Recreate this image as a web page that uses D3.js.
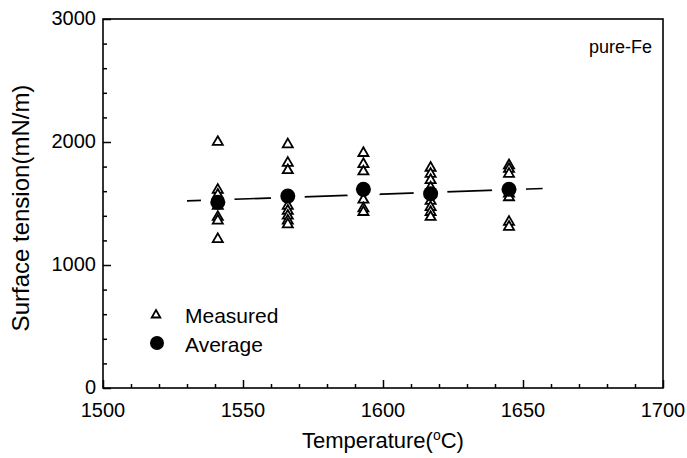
<!DOCTYPE html>
<html>
<head>
<meta charset="utf-8">
<script src="https://cdn.jsdelivr.net/npm/d3@7"></script>
<style>
body { margin: 0; background: #fff; }
svg text { font-family: "Liberation Sans", Arial, sans-serif; fill: #000; }
</style>
</head>
<body>
<svg></svg>
<script>
// measured points, one list per temperature
var temps = [1541, 1566, 1593, 1617, 1645];
var measured = [
	[2000, 1610, 1570, 1480, 1390, 1360, 1210],
	[1980, 1830, 1770, 1480, 1440, 1400, 1360, 1330],
	[1910, 1820, 1760, 1530, 1460, 1430],
	[1790, 1740, 1690, 1630, 1520, 1470, 1430, 1390],
	[1810, 1780, 1740, 1580, 1550, 1350, 1310]
];
var averages = [1510, 1560, 1615, 1580, 1615];
var fitT = [1530, 1657];
var fitY = [1521, 1622];
var xTicks = [1500, 1550, 1600, 1650, 1700];
var yTicks = [0, 1000, 2000, 3000];

var width = 687;
var height = 458;
var pLeft = 103, pRight = 663, pTop = 19, pBottom = 388;

var svg = d3.select("svg")
	.attr("width", width)
	.attr("height", height);

var x = d3.scaleLinear().domain([1500, 1700]).range([pLeft, pRight]);
var y = d3.scaleLinear().domain([0, 3000]).range([pBottom, pTop]);

// frame
svg.append("rect")
	.attr("x", pLeft).attr("y", pTop)
	.attr("width", pRight - pLeft).attr("height", pBottom - pTop)
	.attr("fill", "none").attr("stroke", "#000").attr("stroke-width", 1.6);

// minor ticks (inward)
svg.append("g")
	.attr("transform", `translate(0, ${pBottom})`)
	.call(d3.axisTop(x).tickValues(d3.range(1510, 1700, 10).filter(d => d % 50)).tickSize(4).tickFormat(""))
	.call(g => g.select(".domain").remove())
	.selectAll("line").attr("stroke-width", 1.5);

svg.append("g")
	.attr("transform", `translate(${pLeft}, 0)`)
	.call(d3.axisRight(y).tickValues(d3.range(200, 3000, 200).filter(d => d % 1000)).tickSize(4).tickFormat(""))
	.call(g => g.select(".domain").remove())
	.selectAll("line").attr("stroke-width", 1.5);

// major ticks + labels
var xAxis = svg.append("g")
	.attr("transform", `translate(0, ${pBottom})`)
	.call(d3.axisTop(x).tickValues(xTicks).tickSize(8).tickFormat(""))
	.call(g => g.select(".domain").remove());
xAxis.selectAll("line").attr("stroke-width", 1.5);

svg.selectAll(".xlab")
	.data(xTicks)
	.enter().append("text")
	.attr("x", d => x(d))
	.attr("y", 417)
	.attr("text-anchor", "middle")
	.style("font-size", "20px")
	.text(d => d);

var yAxis = svg.append("g")
	.attr("transform", `translate(${pLeft}, 0)`)
	.call(d3.axisRight(y).tickValues(yTicks).tickSize(8).tickFormat(""))
	.call(g => g.select(".domain").remove());
yAxis.selectAll("line").attr("stroke-width", 1.5);

svg.selectAll(".ylab")
	.data(yTicks)
	.enter().append("text")
	.attr("x", 96)
	.attr("y", d => y(d) + 6)
	.attr("text-anchor", "end")
	.style("font-size", "20px")
	.text(d => d);

// axis titles
var xt = svg.append("text")
	.attr("x", (pLeft + pRight) / 2)
	.attr("y", 448)
	.attr("text-anchor", "middle")
	.style("font-size", "22px");
xt.append("tspan").text("Temperature(");
xt.append("tspan").attr("dy", -8).style("font-size", "14px").text("o");
xt.append("tspan").attr("dy", 8).text("C)");

svg.append("text")
	.attr("transform", "rotate(-90)")
	.attr("x", -208)
	.attr("y", 29)
	.attr("text-anchor", "middle")
	.style("font-size", "24px")
	.text("Surface tension(mN/m)");

svg.append("text")
	.attr("x", 589)
	.attr("y", 53)
	.style("font-size", "18px")
	.text("pure-Fe");

// fit line
svg.append("line")
	.attr("x1", x(fitT[0])).attr("y1", y(fitY[0]))
	.attr("x2", x(fitT[1])).attr("y2", y(fitY[1]))
	.attr("stroke", "#000").attr("stroke-width", 1.6);

// white halos around averages break the line
svg.selectAll(".halo")
	.data(averages)
	.enter().append("circle")
	.attr("cx", (d, i) => x(temps[i]))
	.attr("cy", d => y(d))
	.attr("r", 17)
	.attr("fill", "#fff");

var tri = d3.symbol().type(d3.symbolTriangle).size(44);

var pts = [];
measured.forEach((vals, i) => vals.forEach(v => pts.push({t: temps[i], v: v})));

svg.selectAll(".meas")
	.data(pts)
	.enter().append("path")
	.attr("d", tri)
	.attr("transform", d => `translate(${x(d.t)}, ${y(d.v)})`)
	.attr("fill", "#fff")
	.attr("stroke", "#000")
	.attr("stroke-width", 1.8);

svg.selectAll(".avg")
	.data(averages)
	.enter().append("circle")
	.attr("cx", (d, i) => x(temps[i]))
	.attr("cy", d => y(d))
	.attr("r", 7.5)
	.attr("fill", "#000");

// legend
svg.append("path")
	.attr("d", d3.symbol().type(d3.symbolTriangle).size(32))
	.attr("transform", "translate(156, 315)")
	.attr("fill", "#fff").attr("stroke", "#000").attr("stroke-width", 1.8);
svg.append("text")
	.attr("x", 185).attr("y", 323)
	.style("font-size", "21px")
	.text("Measured");
svg.append("circle")
	.attr("cx", 157).attr("cy", 343).attr("r", 7)
	.attr("fill", "#000");
svg.append("text")
	.attr("x", 185).attr("y", 352)
	.style("font-size", "21px")
	.text("Average");
</script>
</body>
</html>
